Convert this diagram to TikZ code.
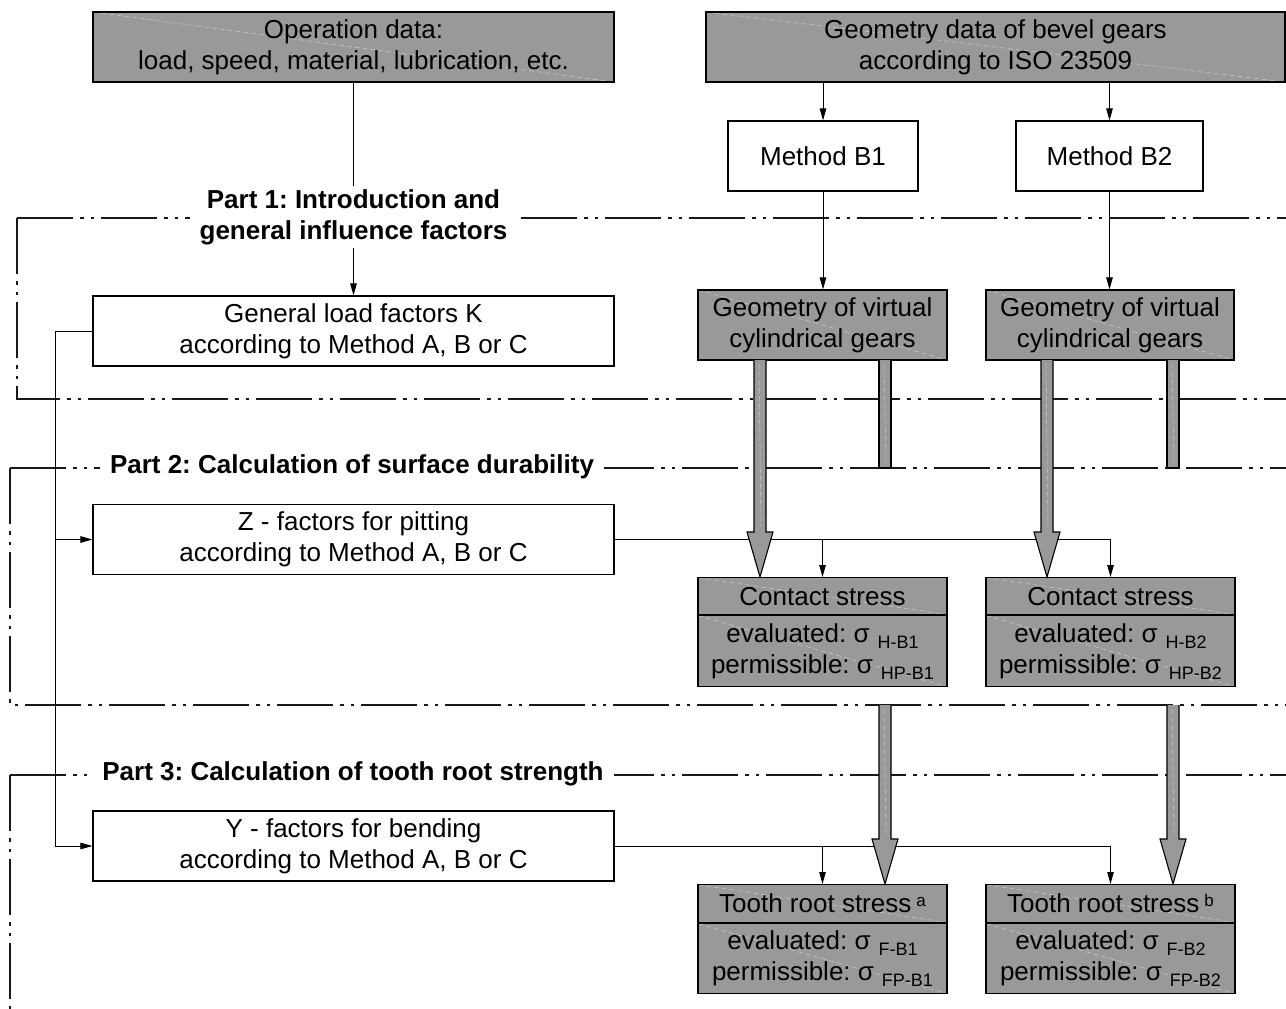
\documentclass[tikz,border=0pt]{standalone}
\usepackage{fontspec}
\setmainfont{Liberation Sans}
\usetikzlibrary{arrows.meta,calc}
\frenchspacing
\newcommand\sbs[1]{\hspace{8pt}\raisebox{-6pt}{\fontsize{18}{18}\selectfont #1}}
\newcommand\sps[1]{\hspace{5pt}\raisebox{6pt}{\fontsize{17}{17}\selectfont #1}}
\newcommand\fatarrow[3]{%
  \draw[fat] (#1-6,#2) -- (#1-6,#3-45) -- (#1-13,#3-45) -- (#1,#3) -- (#1+13,#3-45) -- (#1+6,#3-45) -- (#1+6,#2);
  \draw[streak] (#1-1,#2+4) -- (#1+1,#3-50);}
\newcommand\fatshaft[3]{%
  \draw[fat] (#1-6,#2) -- (#1-6,#3) -- (#1+6,#3) -- (#1+6,#2);
  \draw[streak] (#1-1,#2+4) -- (#1+1,#3-4);}
\begin{document}
\begin{tikzpicture}[x=1pt,y=-1pt,
  font=\fontsize{26}{31}\selectfont,
  base/.style={draw=black, line width=1.1pt, align=center, inner sep=0pt},
  whitebox/.style={base, fill=white},
  streak/.style={white!80!black, line width=0.5pt, dash pattern=on 5pt off 3pt},
  graybox/.style={base, fill=black!40, path picture={\draw[streak] (path picture bounding box.north west) -- (path picture bounding box.south east);}},
  arr/.style={-{Triangle[length=12pt,width=6.5pt]}, line width=1pt},
  conn/.style={line width=1pt},
  frame/.style={line width=1.2pt, black!90, dash pattern=on 56pt off 7pt on 3.5pt off 7pt on 3.5pt off 7pt},
  partlabel/.style={font=\fontsize{26}{31}\selectfont\bfseries, fill=white, align=center, inner xsep=10pt, inner ysep=3pt},
  fat/.style={fill=black!40, draw=black, line width=1.1pt, line join=miter}
]
\fill[white] (0,0) rectangle (1286,1009);
\useasboundingbox (0,0) rectangle (1286,1009);

% frames
\draw[frame] (17,218) -- (1286,218);
\draw[frame] (17,218) -- (17,399) -- (1286,399);
\draw[frame] (10,468) -- (1286,468);
\draw[frame] (10,468) -- (10,705) -- (1286,705);
\draw[frame] (10,775) -- (1286,775);
\draw[frame] (10,775) -- (10,1009);

% top boxes
\node[graybox, minimum width=521pt, minimum height=70pt] (op) at (353.5,47) {Operation data:\\load, speed, material, lubrication, etc.};
\node[graybox, minimum width=579pt, minimum height=70pt] (geo) at (995.5,47) {Geometry data of bevel gears\\according to ISO 23509};
\node[whitebox, minimum width=190pt, minimum height=70pt] (mb1) at (823,156) {Method B1};
\node[whitebox, minimum width=187pt, minimum height=70pt] (mb2) at (1109.5,156) {Method B2};
\node[graybox, minimum width=249pt, minimum height=70pt] (gv1) at (822.5,325) {Geometry of virtual\\cylindrical gears};
\node[graybox, minimum width=248pt, minimum height=70pt] (gv2) at (1110,325) {Geometry of virtual\\cylindrical gears};

% part labels
\node[partlabel] (p1) at (353.5,217) {Part 1: Introduction and\\general influence factors};
\node[partlabel] (p2) at (352,467) {Part 2: Calculation of surface durability};
\node[partlabel] (p3) at (353,774) {Part 3: Calculation of tooth root strength};

% left boxes
\node[whitebox, minimum width=521pt, minimum height=70pt] (gl) at (353.5,331) {General load factors K\\according to Method A, B or C};
\node[whitebox, minimum width=521pt, minimum height=70pt] (zf) at (353.5,539.5) {Z - factors for pitting\\according to Method A, B or C};
\node[whitebox, minimum width=521pt, minimum height=70pt] (yf) at (353.5,846) {Y - factors for bending\\according to Method A, B or C};

% stress boxes
\node[graybox, minimum width=249pt, minimum height=37pt, anchor=north] (cs1h) at (822.5,577) {Contact stress};
\node[graybox, minimum width=249pt, minimum height=71pt, anchor=north] (cs1b) at (cs1h.south) {evaluated: σ\sbs{H-B1}\\permissible: σ\sbs{HP-B1}};
\node[graybox, minimum width=249pt, minimum height=37pt, anchor=north] (cs2h) at (1110.5,577) {Contact stress};
\node[graybox, minimum width=249pt, minimum height=71pt, anchor=north] (cs2b) at (cs2h.south) {evaluated: σ\sbs{H-B2}\\permissible: σ\sbs{HP-B2}};
\node[graybox, minimum width=249pt, minimum height=38pt, anchor=north] (tr1h) at (822.5,884) {Tooth root stress\sps{a}};
\node[graybox, minimum width=249pt, minimum height=70pt, anchor=north] (tr1b) at (tr1h.south) {evaluated: σ\sbs{F-B1}\\permissible: σ\sbs{FP-B1}};
\node[graybox, minimum width=249pt, minimum height=38pt, anchor=north] (tr2h) at (1110.5,884) {Tooth root stress\sps{b}};
\node[graybox, minimum width=249pt, minimum height=70pt, anchor=north] (tr2b) at (tr2h.south) {evaluated: σ\sbs{F-B2}\\permissible: σ\sbs{FP-B2}};

% connectors
\draw[arr] (geo.south -| mb1.north) -- (mb1.north);
\draw[arr] (geo.south -| mb2.north) -- (mb2.north);
\draw[arr] (mb1.south) -- (mb1.south |- gv1.north);
\draw[arr] (mb2.south) -- (mb2.south |- gv2.north);
\draw[conn] (op.south) -- (p1.north);
\draw[arr] (p1.south) -- (gl.north);
\coordinate (bus) at (55,331);
\draw[conn] (gl.west) -- (bus);
\draw[arr] (bus) |- (yf.west);
\draw[arr] (bus |- zf.west) -- (zf.west);
\draw[conn] (zf.east) -- (zf.east -| cs2h.north);
\draw[arr] (zf.east -| cs1h.north) -- (cs1h.north);
\draw[arr] (zf.east -| cs2h.north) -- (cs2h.north);
\draw[conn] (yf.east) -- (yf.east -| tr2h.north);
\draw[arr] (yf.east -| tr1h.north) -- (tr1h.north);
\draw[arr] (yf.east -| tr2h.north) -- (tr2h.north);

% fat arrows
\fatarrow{760}{360}{577}
\fatshaft{885}{360}{468}
\fatarrow{1047}{360}{577}
\fatshaft{1173}{360}{468}
\fatarrow{885}{705}{884}
\fatarrow{1173}{705}{884}
\end{tikzpicture}
\end{document}
